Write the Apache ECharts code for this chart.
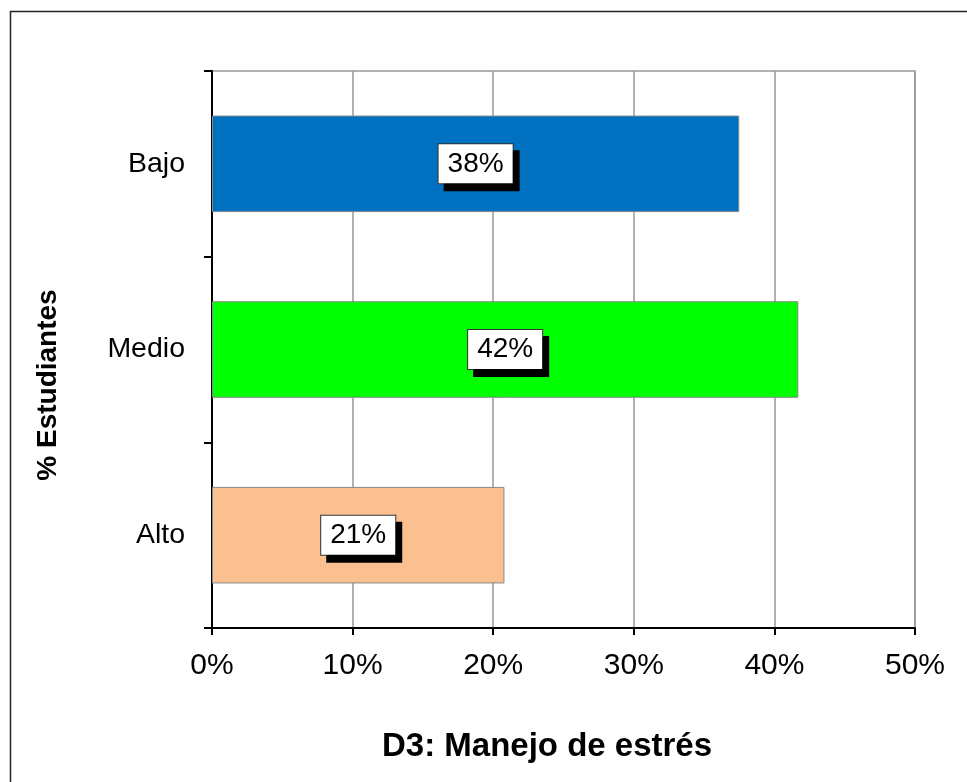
<!DOCTYPE html>
<html>
<head>
<meta charset="utf-8">
<script src="https://cdn.jsdelivr.net/npm/echarts@6/dist/echarts.min.js"></script>
<style>
  html, body { margin: 0; padding: 0; background: #fff; }
  #chart { width: 967px; height: 782px; }
</style>
</head>
<body>
<div id="chart"></div>
<script>
  // data
  const categories = ["Bajo", "Medio", "Alto"];
  const values = [37.5, 41.7, 20.8];
  const barColors = ["#0070C0", "#00FF00", "#FAC08F"];
  const xTicks = [0, 10, 20, 30, 40, 50];
  const xTitle = "D3: Manejo de estrés";
  const yTitle = "% Estudiantes";

  const font = "'Liberation Sans', Arial, sans-serif";

  const chart = echarts.init(document.getElementById("chart"));

  const option = {
    backgroundColor: "#fff",
    animation: false,
    textStyle: { fontFamily: font },
    graphic: [
      {
        type: "rect",
        shape: { x: 10.5, y: 11.5, width: 1000, height: 1000 },
        style: { fill: "none", stroke: "#222", lineWidth: 1.5 },
        silent: true,
      },
      {
        // axis titles placed like the Excel ones
        type: "text",
        x: 547,
        y: 747,
        style: {
          text: xTitle,
          font: "bold 33px " + font,
          fill: "#000",
          textAlign: "center",
          textVerticalAlign: "middle",
        },
      },
      {
        type: "text",
        x: 48,
        y: 385,
        rotation: Math.PI / 2,
        style: {
          text: yTitle,
          font: "bold 28px " + font,
          fill: "#000",
          textAlign: "center",
          textVerticalAlign: "middle",
        },
      },
    ],
    grid: {
      left: 212,
      right: 52,
      top: 71,
      bottom: 154,
      show: true,
      borderColor: "#999",
      borderWidth: 1.5,
    },
    xAxis: {
      type: "value",
      min: xTicks[0],
      max: xTicks[xTicks.length - 1],
      interval: 10,
      axisLine: { show: true, lineStyle: { color: "#000", width: 2 } },
      axisTick: { show: true, length: 7, lineStyle: { color: "#000", width: 2 } },
      axisLabel: {
        formatter: "{value}%",
        fontSize: 30,
        color: "#000",
        margin: 23,
        fontFamily: font,
      },
      splitLine: { show: true, lineStyle: { color: "#999", width: 1.5 } },
    },
    yAxis: {
      type: "category",
      data: categories,
      inverse: true,
      axisLine: { show: true, lineStyle: { color: "#000", width: 2 } },
      axisTick: { show: true, length: 8, lineStyle: { color: "#000", width: 2 } },
      axisLabel: { fontSize: 28.5, color: "#000", margin: 27, fontFamily: font },
      splitLine: { show: false },
    },
    series: [
      {
        type: "bar",
        barWidth: "52%",
        data: values.map((v, i) => ({
          value: v,
          itemStyle: { color: barColors[i] },
        })),
        itemStyle: { borderColor: "#888", borderWidth: 1 },
        label: {
          show: true,
          position: "inside",
          formatter: (p) => Math.round(p.value) + "%",
          fontSize: 28,
          color: "#000",
          fontFamily: font,
          backgroundColor: "#fff",
          borderColor: "#333",
          borderWidth: 1,
          padding: [7, 9, 4, 9],
          shadowColor: "#000",
          shadowBlur: 0,
          shadowOffsetX: 6,
          shadowOffsetY: 7,
        },
      },
    ],
  };

  chart.setOption(option);
</script>
</body>
</html>
